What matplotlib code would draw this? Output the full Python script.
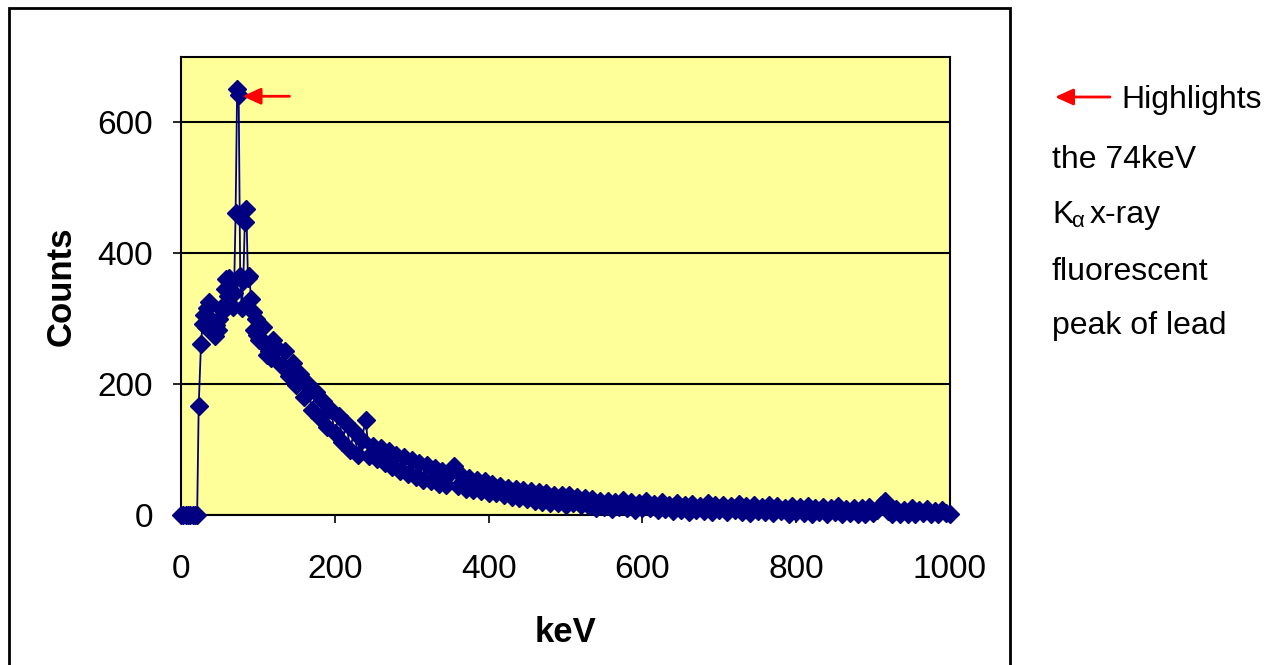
import numpy as np
import matplotlib
matplotlib.use("Agg")
import matplotlib.pyplot as plt
from matplotlib.patches import Rectangle

plt.rcParams['font.family'] = ['Liberation Sans', 'DejaVu Sans']

# low energy part, read point by point
kev_low = [0, 3, 6, 9, 12, 15, 18, 21, 23, 26, 28, 30, 32, 34, 36, 38, 40, 42, 44, 46,
           48, 50, 53, 55, 57, 59, 61, 63, 65, 67, 69, 71, 73, 75, 77, 79, 81, 83, 85, 87,
           89, 91, 93, 95, 97, 99, 101, 103, 105, 107, 110, 112, 115, 117, 120]
counts_low = [0, 0, 0, 0, 0, 0, 0, 0, 167, 262, 292, 305, 288, 316, 325, 300, 296, 280, 273, 290,
              282, 300, 318, 312, 345, 360, 335, 362, 355, 318, 340, 461, 651, 642, 365, 316, 358, 448, 468, 362,
              365, 330, 310, 282, 300, 275, 268, 285, 265, 288, 262, 245, 250, 240, 268]

# 125 .. 1000 keV every 5 keV
kev_high = np.arange(125, 1001, 5)
counts_high = [255, 230, 250, 212, 232, 198, 215, 180, 200, 160, 188, 150, 175, 135, 160, 125, 152, 112, 140, 100,
               128, 92, 115, 145, 90,
               105, 85, 102, 80, 98, 74, 92, 68, 88, 62, 84, 58, 80, 54, 76, 52, 72, 48, 68, 46,
               64, 75, 44, 60, 40, 56, 38, 54, 36, 52, 34,
               48, 34, 45, 30, 42, 28, 40, 26, 38, 24, 36, 22, 35, 20, 33, 19, 31, 18, 30, 16,
               30, 18, 27, 15, 26, 14, 24, 11, 22, 12, 21, 9, 20, 12, 23, 10, 20, 8, 19, 11,
               22, 10, 17, 7, 20, 9, 16, 6, 18, 8, 15, 5, 17, 7, 14, 6, 18, 5, 15, 8,
               16, 4, 14, 7, 17, 5, 13, 3, 16, 6, 12, 4, 15, 3, 13, 6, 11, 2, 14, 4,
               12, 3, 13, 2, 11, 5, 12, 2, 10, 4, 13, 1, 9, 3, 11, 2, 10, 1, 12, 3,
               8, 16, 22, 6, 2, 9, 1, 8, 2, 10, 1, 7, 3, 9, 1, 6, 2, 8, 3, 2]

kev = list(kev_low) + list(kev_high)
counts = counts_low + counts_high

W, H = 1277, 665
fig = plt.figure(figsize=(W / 100, H / 100), dpi=100)
ax = fig.add_axes([181 / W, 1 - 515 / H, 769 / W, 458 / H])
ax.set_facecolor('#FFFF99')

ax.plot(kev, counts, color='#000080', lw=1.3, marker='D', ms=9.5,
        mfc='#000080', mec='#000080', zorder=3, clip_on=False)

ax.set_xlim(0, 1000)
ax.set_ylim(0, 700)
ax.set_xticks([0, 200, 400, 600, 800, 1000])
ax.set_yticks([0, 200, 400, 600])
ax.yaxis.grid(True, color='black', lw=1.5)
ax.set_axisbelow(True)
for s in ax.spines.values():
    s.set_linewidth(1.5)
    s.set_color('black')
ax.tick_params(axis='x', direction='out', length=6, width=1.2, pad=22, labelsize=24)
ax.tick_params(axis='y', direction='out', length=6, width=1.2, pad=14, labelsize=24)

ax.set_xlabel('keV', fontsize=25, fontweight='bold')
ax.set_ylabel('Counts', fontsize=25, fontweight='bold')
ax.xaxis.set_label_coords(0.5, -0.22)
ax.yaxis.set_label_coords(-0.135, 0.5)

arrow_style = dict(arrowstyle='-|>,head_length=1.1,head_width=0.5', color='red', lw=2,
                   shrinkA=0, shrinkB=0)

# red arrow at the peak
ax.annotate('', xy=(80, 640), xytext=(141, 640), arrowprops=arrow_style)

# side note
fx = lambda px: px / W
fy = lambda py: 1 - py / H
fig.text(fx(1121), fy(100), 'Highlights', fontsize=23, va='center')
ax.annotate('', xy=(fx(1055), fy(97)), xytext=(fx(1110), fy(97)), xycoords='figure fraction',
            arrowprops=arrow_style, annotation_clip=False)
fig.text(fx(1052), fy(160), 'the 74keV', fontsize=23, va='center')
fig.text(fx(1052), fy(215), 'K', fontsize=23, va='center')
fig.text(fx(1071), fy(221), 'α', fontsize=16, va='center')
fig.text(fx(1090), fy(215), 'x-ray', fontsize=23, va='center')
fig.text(fx(1052), fy(272), 'fluorescent', fontsize=23, va='center')
fig.text(fx(1052), fy(326), 'peak of lead', fontsize=23, va='center')

# outer frame
fig.add_artist(Rectangle((fx(9), -0.02), (1001) / W, fy(8) + 0.02, fill=False,
                         edgecolor='black', lw=2, transform=fig.transFigure))

fig.savefig('out.png', dpi=100)
